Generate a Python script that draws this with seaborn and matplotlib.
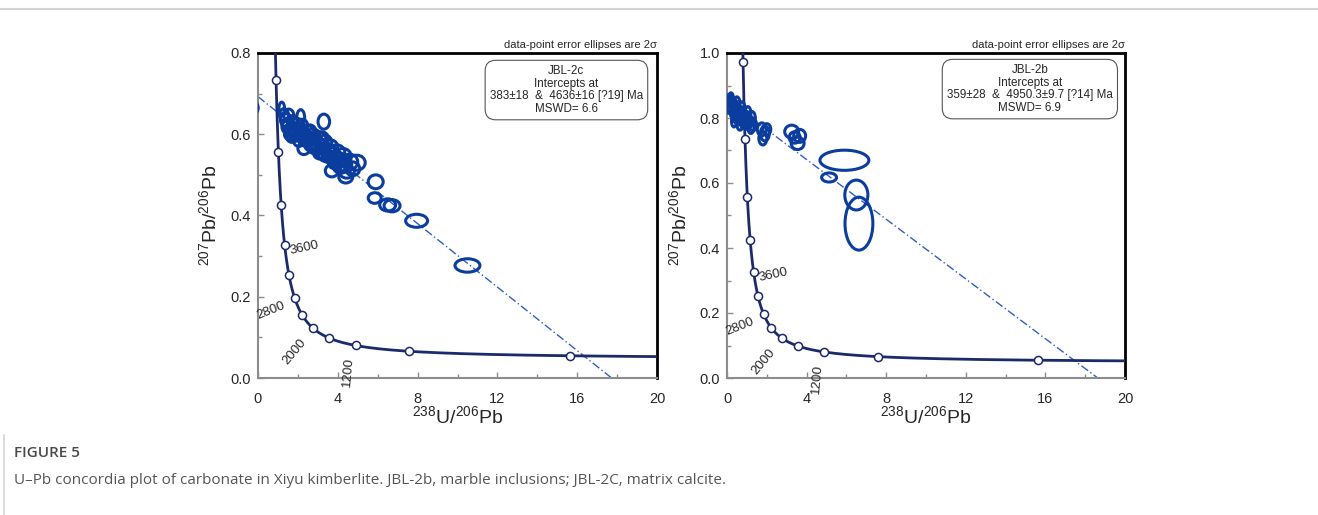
import numpy as np
import pandas as pd
import matplotlib
matplotlib.use("Agg")
import matplotlib.pyplot as plt
import seaborn as sns
from matplotlib.patches import Ellipse
from matplotlib.lines import Line2D
from matplotlib.ticker import MultipleLocator, FormatStrFormatter

sns.set_style("white")
plt.rcParams['font.family'] = ['Liberation Sans', 'DejaVu Sans']
plt.rcParams['mathtext.default'] = 'regular'

# ---- decay constants (Tera-Wasserburg concordia) ----
LAMBDA_238 = 1.55125e-10
LAMBDA_235 = 9.8485e-10
U_RATIO = 137.88

# ---- concordia age markers (Ma) and labels ----
marker_ages = [400, 800, 1200, 1600, 2000, 2400, 2800, 3200, 3600, 4000, 4400, 4800, 5200]
label_ages = [1200, 2000, 2800, 3600]
label_offsets_px = [(-7, -27), (-18, -24), (-24, -13), (4, -3)]
label_rot = [85, 50, 22, 12]

# ---- left panel: JBL-2c ----
c_lower, c_upper = 383, 4636
c_x = [-0.21, 1.19, 2.14, 3.30,
       1.30, 1.40, 1.50, 1.55, 1.65, 1.75, 1.80, 1.95, 2.00, 2.10, 2.25, 2.35, 2.45, 2.55,
       2.65, 2.75, 2.85, 2.95, 3.05, 3.15, 3.25, 3.35, 3.45, 3.55, 3.65, 3.75, 3.85, 3.95,
       4.05, 4.15, 4.25, 4.35, 4.45, 4.60, 4.75, 4.95, 4.40, 3.70, 2.30, 1.70,
       1.45, 1.60, 1.85, 2.05, 2.20, 2.40, 2.60, 2.80, 3.00, 3.20, 3.40, 3.60, 3.90, 4.10, 4.30, 2.70, 3.10,
       5.90, 5.85, 6.50, 6.72, 7.95, 10.50]
c_y = [0.665, 0.664, 0.640, 0.631,
       0.648, 0.635, 0.625, 0.645, 0.612, 0.630, 0.603, 0.622, 0.598, 0.612, 0.600, 0.585, 0.605, 0.590,
       0.575, 0.598, 0.580, 0.565, 0.590, 0.572, 0.555, 0.580, 0.562, 0.545, 0.568, 0.550, 0.530, 0.555,
       0.538, 0.520, 0.545, 0.525, 0.508, 0.532, 0.515, 0.530, 0.495, 0.510, 0.565, 0.595,
       0.618, 0.600, 0.612, 0.585, 0.620, 0.595, 0.607, 0.568, 0.575, 0.590, 0.548, 0.555, 0.540, 0.525, 0.535, 0.588, 0.555,
       0.483, 0.443, 0.426, 0.424, 0.387, 0.277]
c_w = [0.44, 0.28, 0.40, 0.58,
       0.45, 0.55, 0.60, 0.50, 0.60, 0.55, 0.60, 0.65, 0.55, 0.60, 0.65, 0.60, 0.70, 0.60,
       0.65, 0.70, 0.60, 0.65, 0.70, 0.60, 0.65, 0.70, 0.75, 0.65, 0.70, 0.75, 0.65, 0.80,
       0.70, 0.75, 0.85, 0.70, 0.75, 0.80, 0.70, 0.85, 0.70, 0.65, 0.60, 0.55,
       0.50, 0.55, 0.60, 0.55, 0.60, 0.65, 0.60, 0.65, 0.70, 0.65, 0.70, 0.75, 0.70, 0.75, 0.70, 0.60, 0.65,
       0.75, 0.65, 0.80, 0.80, 1.10, 1.25]
c_h = [0.030, 0.030, 0.041, 0.037,
       0.030, 0.032, 0.028, 0.034, 0.030, 0.032, 0.028, 0.034, 0.030, 0.032, 0.030, 0.028, 0.034, 0.030,
       0.032, 0.030, 0.034, 0.030, 0.032, 0.034, 0.030, 0.036, 0.032, 0.030, 0.036, 0.034, 0.030, 0.038,
       0.034, 0.032, 0.040, 0.034, 0.032, 0.038, 0.034, 0.037, 0.030, 0.030, 0.030, 0.030,
       0.030, 0.028, 0.032, 0.030, 0.034, 0.030, 0.032, 0.030, 0.034, 0.032, 0.030, 0.034, 0.032, 0.034, 0.030, 0.030, 0.032,
       0.034, 0.026, 0.030, 0.030, 0.032, 0.033]

# ---- right panel: JBL-2b ----
b_lower, b_upper = 359, 4950.3
b_x = [0.05, 0.10, 0.15, 0.25, 0.30, 0.35, 0.40, 0.45, 0.55, 0.60, 0.65, 0.70, 0.80, 0.85,
       0.95, 1.00, 1.10, 1.25, 1.30, 0.20, 0.50, 0.75, 1.05, 1.20,
       1.75, 1.90, 1.80, 2.00,
       3.25, 3.65, 3.55, 3.40,
       5.90, 5.13, 6.50, 6.63]
b_y = [0.830, 0.855, 0.835, 0.845, 0.820, 0.790, 0.835, 0.805, 0.825, 0.800, 0.780, 0.815, 0.790, 0.810,
       0.785, 0.800, 0.790, 0.800, 0.780, 0.860, 0.845, 0.830, 0.815, 0.770,
       0.765, 0.752, 0.737, 0.765,
       0.758, 0.745, 0.722, 0.740,
       0.670, 0.617, 0.563, 0.475]
b_w = [0.25, 0.25, 0.30, 0.30, 0.30, 0.25, 0.30, 0.30, 0.30, 0.30, 0.30, 0.30, 0.30, 0.30,
       0.30, 0.30, 0.35, 0.35, 0.35, 0.25, 0.30, 0.30, 0.30, 0.30,
       0.45, 0.45, 0.40, 0.40,
       0.70, 0.60, 0.65, 0.55,
       2.46, 0.75, 1.16, 1.40]
b_h = [0.030, 0.035, 0.040, 0.040, 0.040, 0.035, 0.040, 0.040, 0.035, 0.040, 0.035, 0.040, 0.040, 0.035,
       0.040, 0.040, 0.040, 0.040, 0.040, 0.035, 0.040, 0.040, 0.040, 0.035,
       0.040, 0.045, 0.040, 0.035,
       0.040, 0.040, 0.038, 0.035,
       0.062, 0.028, 0.092, 0.163]

NAVY = "#1b2a6b"
ELL = "#0b3d9e"
DISC = "#2f5fc4"
GRAY = "#8c8c8c"


def tw_point(age_ma):
    t = np.asarray(age_ma, dtype=float) * 1e6
    e238 = np.exp(LAMBDA_238 * t) - 1
    e235 = np.exp(LAMBDA_235 * t) - 1
    return 1.0 / e238, e235 / e238 / U_RATIO


def panel(ax, lower, upper, ex, ey, ew, eh, ymax, box_text, box_xy):
    ages = np.linspace(270, 5700, 800)
    cx, cy = tw_point(ages)
    curve = pd.DataFrame({"x": cx, "y": cy})
    sns.lineplot(data=curve, x="x", y="y", sort=False, color=NAVY, lw=2, ax=ax, zorder=3)

    mx, my = tw_point(marker_ages)
    mk = pd.DataFrame({"x": mx, "y": my})
    sns.scatterplot(data=mk, x="x", y="y", marker="o", s=34, facecolor="white",
                    edgecolor=NAVY, linewidth=1.1, ax=ax, zorder=4)

    for a, off, rot in zip(label_ages, label_offsets_px, label_rot):
        px, py = tw_point(a)
        ax.annotate(str(a), (px, py), xytext=off, textcoords="offset pixels",
                    ha="left" if off[0] > 0 else "center", va="center",
                    rotation=rot, fontsize=9.5, zorder=5)

    lx, ly = tw_point(lower)
    ux, uy = tw_point(upper)
    slope = (ly - uy) / (lx - ux)
    y0 = uy - slope * ux
    x0 = -y0 / slope
    disc = pd.DataFrame({"x": [0.0, x0], "y": [y0, 0.0]})
    sns.lineplot(data=disc, x="x", y="y", color=DISC, lw=1.0, ax=ax, zorder=2,
                 linestyle=(0, (6, 2, 1, 2)))

    for x, y, w, h in zip(ex, ey, ew, eh):
        ax.add_patch(Ellipse((x, y), w, h, fill=False, ec=ELL, lw=2.2, zorder=3))

    ax.set_xlim(0, 20)
    ax.set_ylim(0, ymax)
    ax.xaxis.set_major_locator(MultipleLocator(4))
    ax.xaxis.set_minor_locator(MultipleLocator(2))
    ax.yaxis.set_major_locator(MultipleLocator(0.2))
    ax.yaxis.set_minor_locator(MultipleLocator(0.1))
    ax.yaxis.set_major_formatter(FormatStrFormatter("%.1f"))
    ax.tick_params(which="both", direction="in", color=GRAY, labelsize=10.5,
                   bottom=True, left=True, top=False, right=False)
    ax.tick_params(which="major", length=4, width=1)
    ax.tick_params(which="minor", length=3, width=1)
    ax.tick_params(axis="x", pad=10)
    ax.tick_params(axis="y", pad=5)
    for s in ("left", "bottom"):
        ax.spines[s].set_color(GRAY)
        ax.spines[s].set_linewidth(1.5)
    for s in ("top", "right"):
        ax.spines[s].set_color("black")
        ax.spines[s].set_linewidth(2)
        ax.spines[s].set_visible(True)

    ax.set_xlabel(r"$^{238}$U/$^{206}$Pb", fontsize=14)
    ax.set_ylabel(r"$^{207}$Pb/$^{206}$Pb", fontsize=14)
    ax.xaxis.set_label_coords(0.5, -0.085)

    ax.text(1.0, 1.01, "data-point error ellipses are 2σ", transform=ax.transAxes,
            ha="right", va="bottom", fontsize=8)
    ax.text(box_xy[0], box_xy[1], box_text, transform=ax.transAxes, ha="center", va="center",
            fontsize=8.4, linespacing=1.08, zorder=6,
            bbox=dict(boxstyle="round,pad=0.4,rounding_size=0.9", fc="white", ec="#555555", lw=0.8))


fig = plt.figure(figsize=(13.18, 5.15), dpi=100)
axL = fig.add_axes([258 / 1318, 137 / 515, 399 / 1318, 325 / 515])
axR = fig.add_axes([727 / 1318, 137 / 515, 398 / 1318, 325 / 515])

panel(axL, c_lower, c_upper, c_x, c_y, c_w, c_h, 0.8,
      "JBL-2c\nIntercepts at\n383±18  &  4636±16 [?19] Ma\nMSWD= 6.6", (0.773, 0.886))
panel(axR, b_lower, b_upper, b_x, b_y, b_w, b_h, 1.0,
      "JBL-2b\nIntercepts at\n359±28  &  4950.3±9.7 [?14] Ma\nMSWD= 6.9", (0.761, 0.889))
axL.yaxis.set_label_coords(-0.095, 0.5)
axR.yaxis.set_label_coords(-0.093, 0.5)

fig.add_artist(Line2D([0, 1], [1 - 9 / 515, 1 - 9 / 515], transform=fig.transFigure,
                      color="#d4d4d4", lw=1.5))
fig.add_artist(Line2D([4 / 1318, 4 / 1318], [0, 1 - 435 / 515], transform=fig.transFigure,
                      color="#d4d4d4", lw=1.2))
fig.text(14 / 1318, 1 - 453 / 515, "FIGURE 5", fontsize=11, fontweight="semibold",
         color="#4a4a4a", family=["Open Sans", "DejaVu Sans"], va="center")
fig.text(14 / 1318, 1 - 481 / 515,
         "U–Pb concordia plot of carbonate in Xiyu kimberlite. JBL-2b, marble inclusions; JBL-2C, matrix calcite.",
         fontsize=11, color="#555555", family=["Open Sans", "DejaVu Sans"], va="center")

fig.savefig("out.png", dpi=100)
